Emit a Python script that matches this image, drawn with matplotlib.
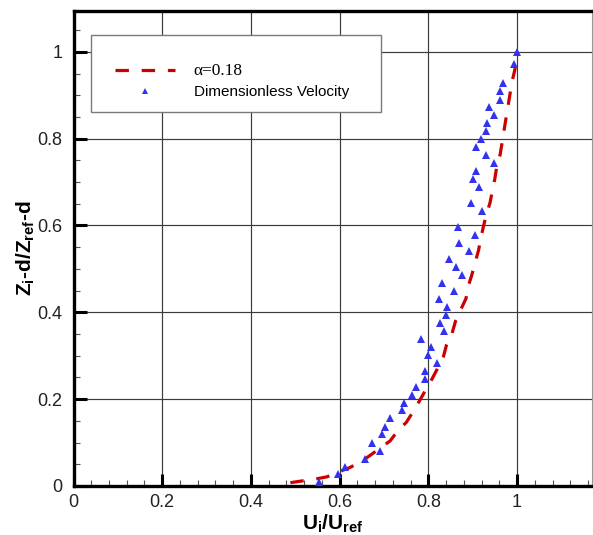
import matplotlib
matplotlib.use("Agg")
import matplotlib.pyplot as plt
from matplotlib.patches import Rectangle
from matplotlib.lines import Line2D
from matplotlib.ticker import MultipleLocator

plt.rcParams['font.family'] = ['Liberation Sans', 'DejaVu Sans']
plt.rcParams['mathtext.fontset'] = 'custom'
plt.rcParams['mathtext.rm'] = 'Liberation Sans:bold'
plt.rcParams['mathtext.bf'] = 'Liberation Sans:bold'
plt.rcParams['mathtext.it'] = 'Liberation Sans:bold'

# power-law profile (alpha = 0.18)
curve_x = [0.489, 0.514, 0.545, 0.571, 0.599, 0.622, 0.650, 0.668, 0.691, 0.714,
           0.734, 0.750, 0.768, 0.780, 0.796, 0.808, 0.822, 0.834, 0.841, 0.853,
           0.862, 0.885, 0.889, 0.898, 0.905, 0.913, 0.918, 0.924, 0.930, 0.939,
           0.944, 0.950, 0.954, 0.962, 0.966, 0.971, 0.975, 0.980, 0.984, 0.989,
           0.995, 1.000]
curve_y = [0.0076, 0.0115, 0.016, 0.021, 0.033, 0.042, 0.057, 0.070, 0.087, 0.104,
           0.131, 0.146, 0.175, 0.196, 0.225, 0.246, 0.273, 0.298, 0.325, 0.350,
           0.382, 0.432, 0.457, 0.486, 0.513, 0.542, 0.568, 0.597, 0.622, 0.652,
           0.678, 0.708, 0.734, 0.764, 0.789, 0.821, 0.846, 0.877, 0.902, 0.933,
           0.958, 1.000]

# dimensionless velocity points
vel_x = [1.000, 0.9925, 0.968, 0.962, 0.961, 0.937, 0.947, 0.932, 0.929, 0.918,
         0.907, 0.929, 0.947, 0.908, 0.901, 0.915, 0.896, 0.920, 0.866, 0.906,
         0.870, 0.892, 0.846, 0.862, 0.876, 0.830, 0.858, 0.823, 0.841, 0.839,
         0.826, 0.835, 0.784, 0.807, 0.799, 0.819, 0.793, 0.793, 0.772, 0.763,
         0.746, 0.741, 0.714, 0.702, 0.695, 0.673, 0.690, 0.657, 0.612, 0.596,
         0.554]
vel_y = [1.000, 0.973, 0.929, 0.910, 0.890, 0.873, 0.854, 0.836, 0.818, 0.799,
         0.781, 0.763, 0.744, 0.725, 0.707, 0.689, 0.652, 0.633, 0.597, 0.578,
         0.560, 0.542, 0.523, 0.504, 0.487, 0.467, 0.449, 0.431, 0.413, 0.394,
         0.376, 0.358, 0.339, 0.321, 0.302, 0.284, 0.266, 0.247, 0.229, 0.210,
         0.192, 0.174, 0.156, 0.137, 0.119, 0.100, 0.081, 0.063, 0.044, 0.027,
         0.009]

x_ticks = [0, 0.2, 0.4, 0.6, 0.8, 1]
x_ticklabels = ['0', '0.2', '0.4', '0.6', '0.8', '1']
y_ticks = [0, 0.2, 0.4, 0.6, 0.8, 1]
y_ticklabels = ['0', '0.2', '0.4', '0.6', '0.8', '1']

fig = plt.figure(figsize=(5.93, 5.35), dpi=100)
ax = fig.add_axes([73.5 / 593, 49 / 535, (592 - 73.5) / 593, (486 - 11) / 535])
ax.set_xlim(0, 1.169)
ax.set_ylim(0, 1.094)

ax.set_xticks(x_ticks)
ax.set_xticklabels(x_ticklabels)
ax.set_yticks(y_ticks)
ax.set_yticklabels(y_ticklabels)
ax.xaxis.set_minor_locator(MultipleLocator(0.04))
ax.yaxis.set_minor_locator(MultipleLocator(0.05))

ax.grid(True, which='major', color='#3a3a3a', linewidth=0.85, zorder=0)
ax.set_axisbelow(True)

ax.tick_params(which='major', direction='in', length=9, width=2.2, color='black',
               labelsize=13, labelcolor='#222222', top=False, right=False)
ax.tick_params(axis='x', which='major', pad=6)
ax.tick_params(axis='y', which='major', pad=8)
ax.tick_params(which='minor', direction='in', length=4.5, width=0.8, color='#555555',
               top=False, right=False)

for side in ['left', 'bottom', 'top']:
    ax.spines[side].set_linewidth(2.4)
    ax.spines[side].set_color('black')
ax.spines['right'].set_linewidth(0.8)
ax.spines['right'].set_color('#999999')

line, = ax.plot(curve_x, curve_y, color='#cc0000', linewidth=2.3, zorder=4)
line.set_dashes((4.2, 4.0))
pts, = ax.plot(vel_x, vel_y, linestyle='none', marker='^', markersize=5.4,
               color='#3333ee', markeredgewidth=0, zorder=5)

ax.set_xlabel('U$_\\mathbf{i}$/U$_\\mathbf{ref}$', fontsize=15, fontweight='bold', labelpad=1)
ax.set_ylabel('Z$_\\mathbf{i}$-d/Z$_\\mathbf{ref}$-d', fontsize=15, fontweight='bold', labelpad=0)

# legend box
box = Rectangle((91 / 593, (535 - 112) / 535), (381 - 91) / 593, (112 - 35) / 535,
                transform=fig.transFigure, facecolor='white', edgecolor='#7a7a7a',
                linewidth=1.0, zorder=6)
fig.patches.append(box)

h1 = Line2D([], [], color='#cc0000', linewidth=2.3, dashes=(4.2, 4.0))
h2 = Line2D([], [], linestyle='none', marker='^', markersize=4.0, color='#3333ee',
            markeredgewidth=0)
leg = fig.legend([h1, h2], ['\u03b1=0.18', 'Dimensionless Velocity'],
                 loc='upper left', bbox_to_anchor=(115 / 593, (535 - 63) / 535),
                 frameon=False, fontsize=11, handlelength=3.9, handletextpad=1.25,
                 labelspacing=0.4, borderpad=0, borderaxespad=0)
leg.set_zorder(7)
t0 = leg.get_texts()[0]
t0.set_fontfamily(['Liberation Serif', 'DejaVu Serif'])
t0.set_fontsize(12.5)

fig.savefig('out.png', dpi=100)
